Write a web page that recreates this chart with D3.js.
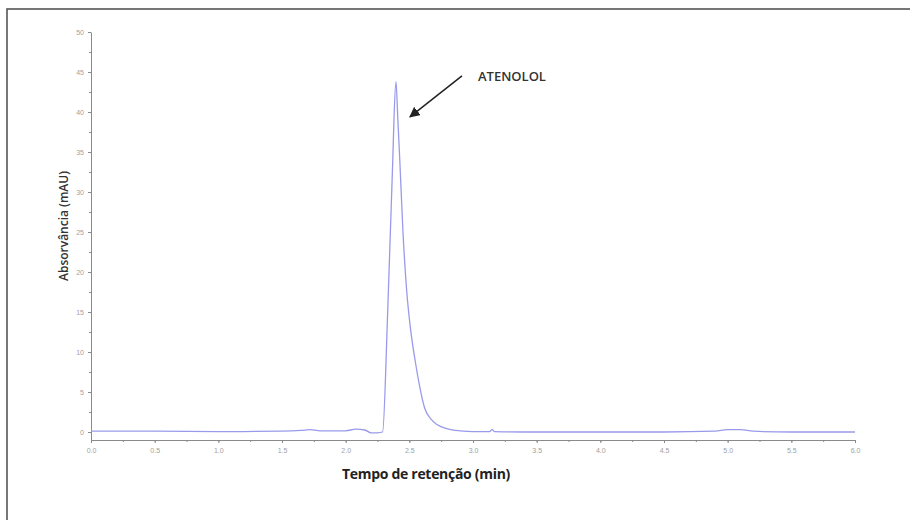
<!DOCTYPE html>
<html>
<head>
<meta charset="utf-8">
<script src="https://cdn.jsdelivr.net/npm/d3@7"></script>
<style>
  body { margin: 0; background: #fff; }
  svg { display: block; font-family: "Open Sans", "DejaVu Sans", sans-serif; }
  .axis path, .axis line { stroke: #8a8a8a; }
  .axis text { fill: #a0a0a0; font-size: 7px; }
</style>
</head>
<body>
<svg id="chart" width="910" height="520"></svg>
<script>
var tempos = [0.0, 0.5, 1.0, 1.5, 1.65, 1.72, 1.8, 2.0, 2.08, 2.15, 2.2, 2.25, 2.29,
              2.33, 2.37, 2.38, 2.395, 2.41, 2.425, 2.45, 2.48, 2.51, 2.545, 2.58, 2.62,
              2.67, 2.72, 2.8, 2.9, 3.0, 3.13, 3.15, 3.17, 3.5, 4.0, 4.5, 4.9, 5.0, 5.1,
              5.2, 5.5, 6.0];
var absorvancia = [0.1, 0.1, 0.05, 0.1, 0.2, 0.3, 0.15, 0.15, 0.35, 0.25, -0.1, -0.1, 0.0,
                   15, 34, 39.4, 43.8, 39, 34, 25, 17.5, 12.8, 9, 5.8, 3.0,
                   1.6, 0.9, 0.4, 0.15, 0.05, 0.05, 0.3, 0.05, 0.0, 0.0, 0.0, 0.1, 0.3, 0.3,
                   0.1, 0.0, 0.0];
var xTicks = [0, 0.5, 1, 1.5, 2, 2.5, 3, 3.5, 4, 4.5, 5, 5.5, 6];
var yTicks = [0, 5, 10, 15, 20, 25, 30, 35, 40, 45, 50];
var picoNome = "ATENOLOL";
var picoTempo = 2.395, picoAbs = 39.4;

var svg = d3.select("#chart");

// moldura
svg.append("rect")
   .attr("x", 7).attr("y", 9)
   .attr("width", 920).attr("height", 530)
   .attr("fill", "none")
   .attr("stroke", "#555")
   .attr("stroke-width", 1.6);

var scaleX = d3.scaleLinear().domain([0, 6]).range([91, 855]);
var scaleY = d3.scaleLinear().domain([-1, 50]).range([440, 32]);

// minor ticks
var minorY = d3.range(0, 50.1, 2.5);
svg.append("g")
   .attr("class", "axis")
   .attr("transform", "translate(91,0)")
   .call(d3.axisLeft(scaleY).tickValues(minorY).tickSize(2).tickFormat(""))
   .select(".domain").remove();
svg.append("g")
   .attr("class", "axis")
   .attr("transform", "translate(0,440)")
   .call(d3.axisBottom(scaleX).tickValues(d3.range(0, 6.01, 0.25)).tickSize(2).tickFormat(""))
   .select(".domain").remove();

svg.append("g")
   .attr("class", "axis")
   .attr("transform", "translate(91,0)")
   .call(d3.axisLeft(scaleY).tickValues(yTicks).tickSize(3).tickSizeOuter(0).tickPadding(4)
         .tickFormat(function(d){ return d; }));

svg.append("g")
   .attr("class", "axis")
   .attr("transform", "translate(0,440)")
   .call(d3.axisBottom(scaleX).tickValues(xTicks).tickSize(3).tickSizeOuter(0).tickPadding(5)
         .tickFormat(d3.format(".1f")));

// sinal
var dados = tempos.map(function(t, i){ return [t, absorvancia[i]]; });
var line = d3.line()
             .x(function(d){ return scaleX(d[0]); })
             .y(function(d){ return scaleY(d[1]); })
             .curve(d3.curveMonotoneX);

svg.append("path")
   .attr("d", line(dados))
   .attr("fill", "none")
   .attr("stroke", "#9a9aec")
   .attr("stroke-width", 1.3);

// títulos
svg.append("text")
   .attr("x", 426).attr("y", 479)
   .attr("text-anchor", "middle")
   .attr("font-size", 14)
   .attr("font-weight", "bold")
   .attr("letter-spacing", -0.3)
   .attr("fill", "#222")
   .text("Tempo de retenção (min)");

svg.append("text")
   .attr("transform", "translate(68,226) rotate(-90)")
   .attr("text-anchor", "middle")
   .attr("font-size", 12)
   .attr("font-weight", 600)
   .attr("fill", "#333")
   .text("Absorvância (mAU)");

// anotação
svg.append("defs").append("marker")
   .attr("id", "seta")
   .attr("viewBox", "0 0 10 10")
   .attr("refX", 9).attr("refY", 5)
   .attr("markerWidth", 7).attr("markerHeight", 7)
   .attr("orient", "auto")
   .append("path")
   .attr("d", "M0,0L10,5L0,10z")
   .attr("fill", "#222");

var tipX = scaleX(picoTempo) + 14, tipY = scaleY(picoAbs);
svg.append("line")
   .attr("x1", tipX + 52).attr("y1", tipY - 41)
   .attr("x2", tipX).attr("y2", tipY)
   .attr("stroke", "#222")
   .attr("stroke-width", 1.5)
   .attr("marker-end", "url(#seta)");

svg.append("text")
   .attr("x", tipX + 68).attr("y", tipY - 36)
   .attr("font-size", 13)
   .attr("font-weight", 600)
   .attr("fill", "#333")
   .text(picoNome);
</script>
</body>
</html>
